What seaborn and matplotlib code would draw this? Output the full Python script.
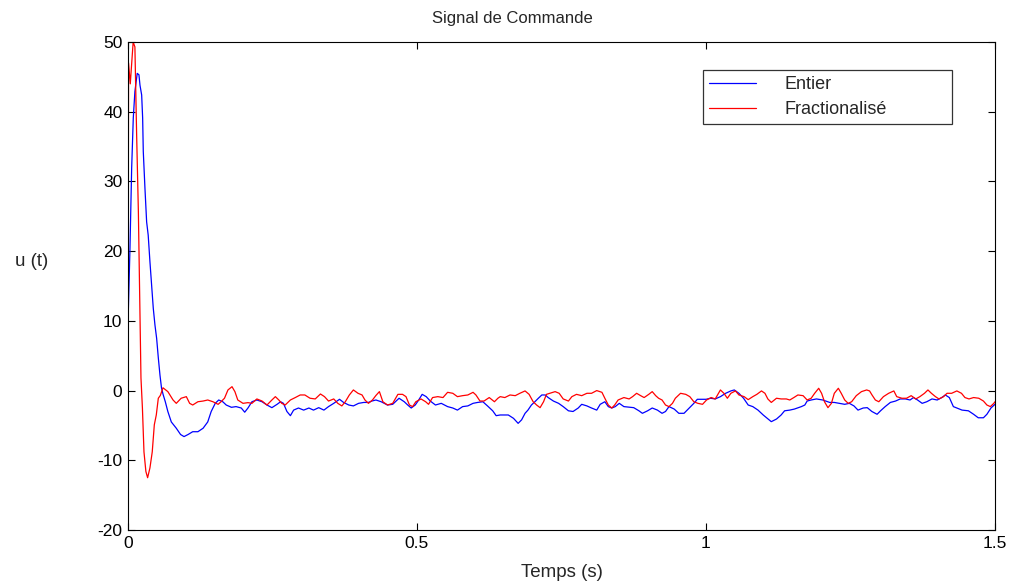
import matplotlib
matplotlib.use("Agg")
import matplotlib.pyplot as plt
import numpy as np
import pandas as pd
import seaborn as sns

# Commande u(t) - correcteur entier
t_entier = [
    0, 0.0006, 0.0035, 0.0064, 0.0092, 0.012, 0.016, 0.019, 0.0208, 0.0237,
    0.0254, 0.0265, 0.0294, 0.0323, 0.035, 0.038, 0.041, 0.0438, 0.0467, 0.0496,
    0.0525, 0.0554, 0.058, 0.0606, 0.0646, 0.069, 0.075, 0.0836, 0.091, 0.097,
    0.104, 0.112, 0.121, 0.130, 0.138, 0.144, 0.151, 0.157, 0.164, 0.170,
    0.179, 0.187, 0.196, 0.202, 0.2076, 0.2145, 0.223, 0.232, 0.2405, 0.249,
    0.258, 0.264, 0.269, 0.275, 0.281, 0.2866, 0.295, 0.304, 0.313, 0.321,
    0.330, 0.339, 0.347, 0.356, 0.366, 0.373, 0.382, 0.390, 0.399, 0.408,
    0.416, 0.422, 0.429, 0.438, 0.449, 0.458, 0.469, 0.478, 0.484, 0.490,
    0.497, 0.503, 0.509, 0.516, 0.523, 0.532, 0.542, 0.553, 0.562, 0.570,
    0.579, 0.588, 0.597, 0.605, 0.614, 0.622, 0.631, 0.637, 0.644, 0.658,
    0.667, 0.675, 0.681, 0.687, 0.692, 0.698, 0.704, 0.710, 0.716, 0.722,
    0.727, 0.736, 0.745, 0.753, 0.762, 0.770, 0.779, 0.785, 0.794, 0.802,
    0.811, 0.817, 0.825, 0.831, 0.837, 0.843, 0.850, 0.858, 0.875, 0.884,
    0.890, 0.899, 0.907, 0.916, 0.924, 0.930, 0.936, 0.945, 0.953, 0.962,
    0.971, 0.979, 0.985, 1.000, 1.008, 1.016, 1.025, 1.034, 1.043, 1.049,
    1.057, 1.065, 1.073, 1.081, 1.090, 1.099, 1.106, 1.113, 1.122, 1.130,
    1.136, 1.145, 1.153, 1.165, 1.171, 1.175, 1.182, 1.191, 1.202, 1.214,
    1.222, 1.231, 1.240, 1.248, 1.256, 1.263, 1.272, 1.279, 1.287, 1.296,
    1.302, 1.310, 1.319, 1.328, 1.336, 1.345, 1.353, 1.359, 1.366, 1.374,
    1.382, 1.391, 1.400, 1.408, 1.414, 1.421, 1.428, 1.434, 1.443, 1.454,
    1.463, 1.471, 1.480, 1.486, 1.493, 1.500,
]
u_entier = [
    0, 11.3, 20.5, 31.9, 39.1, 42.9, 45.5, 45.3, 43.8, 42.4,
    39.1, 34.3, 29.0, 24.2, 22.3, 18.5, 15.1, 11.8, 9.4, 7.5,
    4.7, 2.2, 0.4, -0.5, -1.6, -3.0, -4.5, -5.4, -6.3, -6.6,
    -6.3, -5.9, -5.9, -5.4, -4.5, -3.0, -1.83, -1.35, -1.6, -2.07,
    -2.4, -2.3, -2.5, -3.1, -2.5, -1.6, -1.35, -1.6, -2.07, -2.45,
    -1.97, -1.6, -1.83, -3.0, -3.6, -2.8, -2.5, -2.8, -2.5, -2.8,
    -2.45, -2.8, -2.3, -1.83, -1.25, -1.7, -2.07, -2.2, -1.83, -1.7,
    -1.7, -1.5, -1.35, -1.6, -2.07, -1.97, -1.1, -1.6, -2.07, -2.5,
    -2.07, -1.35, -0.54, -0.87, -1.5, -2.07, -1.83, -2.3, -2.5, -2.8,
    -2.3, -2.2, -1.83, -1.7, -1.6, -2.2, -2.9, -3.6, -3.5, -3.5,
    -3.98, -4.7, -4.2, -3.26, -2.8, -2.07, -1.6, -1.1, -0.63, -0.63,
    -1.0, -1.5, -1.83, -2.3, -2.9, -3.0, -2.5, -1.97, -2.2, -2.5,
    -2.8, -1.97, -1.6, -2.3, -2.5, -2.3, -1.83, -2.3, -2.45, -2.9,
    -3.26, -2.9, -2.5, -2.8, -3.26, -3.0, -2.3, -2.65, -3.26, -3.26,
    -2.5, -1.83, -1.25, -1.25, -1.1, -1.2, -0.87, -0.39, -0.05, 0.09,
    -0.39, -1.1, -2.07, -2.3, -2.8, -3.5, -3.98, -4.46, -4.08, -3.5,
    -2.9, -2.8, -2.65, -2.3, -2.07, -1.5, -1.35, -1.2, -1.35, -1.7,
    -1.7, -1.83, -1.97, -1.83, -2.2, -2.8, -2.5, -2.45, -3.0, -3.4,
    -2.9, -2.3, -1.7, -1.5, -1.2, -1.2, -1.35, -1.0, -1.35, -1.83,
    -1.6, -1.2, -1.35, -1.0, -0.63, -1.0, -2.3, -2.5, -2.8, -2.9,
    -3.4, -3.9, -3.9, -3.4, -2.5, -1.97,
]

# Commande u(t) - correcteur fractionnaire
t_frac = [
    0, 0.001, 0.004, 0.009, 0.012, 0.015, 0.018, 0.021, 0.0225, 0.025,
    0.0277, 0.031, 0.034, 0.038, 0.042, 0.0456, 0.049, 0.0525, 0.056, 0.0606,
    0.069, 0.078, 0.0836, 0.092, 0.101, 0.1067, 0.112, 0.121, 0.130, 0.138,
    0.147, 0.156, 0.161, 0.167, 0.173, 0.180, 0.185, 0.190, 0.199, 0.2076,
    0.2145, 0.223, 0.232, 0.2405, 0.249, 0.255, 0.261, 0.266, 0.272, 0.281,
    0.2895, 0.298, 0.306, 0.315, 0.324, 0.333, 0.340, 0.347, 0.356, 0.363,
    0.370, 0.376, 0.383, 0.390, 0.398, 0.405, 0.410, 0.416, 0.423, 0.429,
    0.435, 0.441, 0.449, 0.458, 0.467, 0.475, 0.481, 0.487, 0.4925, 0.498,
    0.507, 0.515, 0.520, 0.527, 0.536, 0.545, 0.553, 0.562, 0.570, 0.579,
    0.588, 0.597, 0.602, 0.609, 0.616, 0.625, 0.634, 0.640, 0.644, 0.652,
    0.661, 0.670, 0.678, 0.687, 0.694, 0.701, 0.707, 0.713, 0.719, 0.724,
    0.730, 0.739, 0.746, 0.753, 0.762, 0.768, 0.776, 0.785, 0.794, 0.802,
    0.811, 0.820, 0.825, 0.831, 0.837, 0.842, 0.848, 0.858, 0.867, 0.873,
    0.880, 0.887, 0.893, 0.901, 0.907, 0.913, 0.918, 0.924, 0.930, 0.936,
    0.942, 0.947, 0.956, 0.965, 0.972, 0.979, 0.986, 0.994, 1.001, 1.009,
    1.016, 1.025, 1.031, 1.037, 1.043, 1.051, 1.057, 1.066, 1.073, 1.081,
    1.088, 1.096, 1.102, 1.107, 1.113, 1.122, 1.130, 1.139, 1.145, 1.152,
    1.159, 1.168, 1.175, 1.182, 1.188, 1.195, 1.200, 1.205, 1.211, 1.217,
    1.222, 1.229, 1.234, 1.240, 1.246, 1.252, 1.260, 1.269, 1.278, 1.283,
    1.287, 1.293, 1.299, 1.307, 1.316, 1.325, 1.330, 1.339, 1.347, 1.355,
    1.363, 1.370, 1.378, 1.384, 1.390, 1.397, 1.403, 1.411, 1.417, 1.425,
    1.434, 1.442, 1.448, 1.455, 1.463, 1.472, 1.480, 1.486, 1.492, 1.498,
    1.500,
]
u_frac = [
    0, 47, 44, 50, 49.3, 36.7, 25.7, 10.4, 1.8, -2.5,
    -8.8, -11.6, -12.5, -11.1, -8.8, -4.9, -3.5, -1.1, -0.7, 0.4,
    -0.15, -1.35, -1.83, -1.1, -0.87, -1.83, -2.07, -1.6, -1.5, -1.35,
    -1.6, -1.97, -1.6, -1.1, 0.09, 0.56, -0.15, -1.35, -1.83, -1.73,
    -1.83, -1.2, -1.5, -2.07, -1.35, -0.87, -1.35, -1.83, -2.07, -1.35,
    -1.0, -0.63, -0.63, -1.1, -1.2, -0.49, -0.87, -1.5, -1.2, -1.83,
    -2.2, -1.6, -0.63, 0.09, -0.39, -0.63, -1.35, -1.83, -1.35, -0.7,
    -0.15, -1.6, -2.07, -1.83, -0.54, -0.54, -0.87, -2.07, -2.3, -1.6,
    -1.2, -1.6, -1.97, -1.0, -0.87, -1.0, -0.25, -0.39, -0.87, -0.73,
    -0.63, -0.25, -0.63, -1.5, -1.5, -1.0, -1.6, -1.1, -0.87, -1.0,
    -0.63, -0.73, -0.39, -0.05, -0.54, -1.6, -2.07, -2.45, -1.6, -0.54,
    -0.39, -0.15, -0.39, -1.2, -1.5, -0.87, -0.54, -0.73, -0.39, -0.39,
    0.0, -0.25, -1.1, -2.07, -2.5, -2.07, -1.35, -1.0, -1.2, -0.87,
    -0.39, -0.73, -1.0, -0.54, -0.15, -0.73, -1.1, -1.35, -2.07, -2.3,
    -1.83, -1.1, -0.39, -0.54, -0.87, -1.6, -1.83, -1.97, -1.35, -1.0,
    -1.2, 0.09, -0.39, -1.1, -0.39, -0.05, -0.63, -0.87, -1.3, -0.87,
    -0.54, -0.05, -0.39, -1.2, -1.7, -1.1, -1.2, -1.2, -1.35, -1.0,
    -0.63, -0.73, -1.35, -1.1, -0.39, 0.33, -0.39, -1.6, -2.45, -1.83,
    -0.39, 0.33, -0.39, -1.35, -1.83, -1.6, -0.73, -0.15, 0.09, -0.05,
    -0.6, -1.35, -1.6, -0.87, -0.39, -0.05, -0.87, -1.1, -1.1, -0.73,
    -1.2, -0.87, -0.39, 0.09, -0.39, -0.87, -1.2, -0.87, -0.39, -0.39,
    -0.05, -0.39, -1.0, -1.2, -1.0, -1.1, -1.5, -2.07, -2.3, -1.83,
    -1.6,
]

series_names = ["Entier", "Fractionalisé"]
series_colors = ["#0000ff", "#ff0000"]
x_ticks = [0, 0.5, 1, 1.5]
x_tick_labels = ["0", "0.5", "1", "1.5"]
y_ticks = [-20, -10, 0, 10, 20, 30, 40, 50]

df = pd.concat([
    pd.DataFrame({"t": t_entier, "u": u_entier, "serie": series_names[0]}),
    pd.DataFrame({"t": t_frac, "u": u_frac, "serie": series_names[1]}),
], ignore_index=True)

sns.set_style("ticks")
plt.rcParams["font.family"] = ["Liberation Sans", "DejaVu Sans"]
plt.rcParams["axes.unicode_minus"] = False

fig = plt.figure(figsize=(10.18, 5.85), dpi=100)
ax = fig.add_axes([0.1257, 0.094, 0.8517, 0.8342])

sns.lineplot(data=df, x="t", y="u", hue="serie", hue_order=series_names,
             palette=dict(zip(series_names, series_colors)),
             sort=False, estimator=None, linewidth=0.9, ax=ax, legend=False)

ax.set_xlim(0, 1.5)
ax.set_ylim(-20, 50)
ax.set_xticks(x_ticks)
ax.set_xticklabels(x_tick_labels)
ax.set_yticks(y_ticks)
ax.tick_params(direction="in", length=5, width=0.8, labelsize=12.5,
               top=True, right=True, colors="black", pad=4)
for s in ax.spines.values():
    s.set_visible(True)
    s.set_color("black")
    s.set_linewidth(0.8)

ax.set_title("Signal de Commande", fontsize=12, x=0.443, pad=14)
ax.set_xlabel("Temps (s)", fontsize=13.5, labelpad=10)
ax.set_ylabel("")
fig.text(32 / 1018, 1 - 262 / 585, "u (t)", fontsize=13.5,
         ha="center", va="center")

handles = [plt.Line2D([], [], color=c, linewidth=0.9) for c in series_colors]
leg = ax.legend(handles, series_names, loc="upper left",
                bbox_to_anchor=(0.6632, 0.8299, 0.2872, 0.1127), mode="expand",
                fontsize=13, frameon=True, fancybox=False, edgecolor="black",
                handlelength=2.6, handletextpad=1.6, borderpad=0.33,
                labelspacing=0.45, borderaxespad=0)
leg.get_frame().set_linewidth(0.9)

fig.savefig("out.png", dpi=100, facecolor="white")
